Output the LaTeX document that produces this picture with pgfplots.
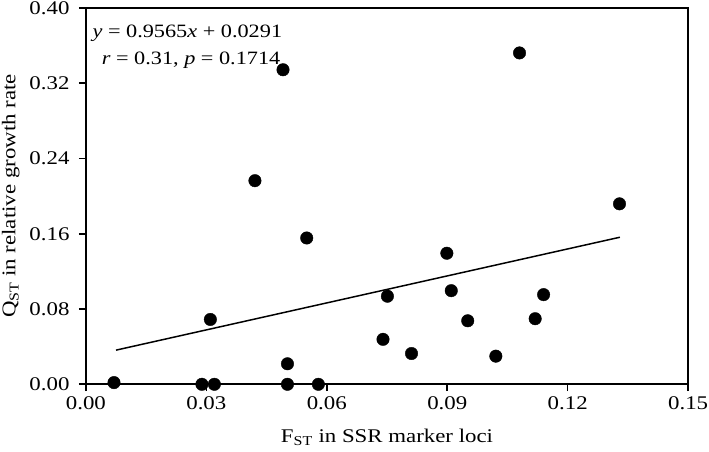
\documentclass[border=0pt]{standalone}
\usepackage{pgfplots}
\pgfplotsset{compat=1.18}
\usepackage{fontspec}
\setmainfont{Liberation Serif}[FakeStretch=1.18]
\begin{document}
\begin{tikzpicture}
\begin{axis}[
  name=ax,
  scale only axis,
  width=606.5pt, height=379pt,
  xmin=0, xmax=0.15, ymin=0, ymax=0.40,
  xtick={0,0.03,0.06,0.09,0.12,0.15},
  ytick={0,0.08,0.16,0.24,0.32,0.40},
  tick align=outside,
  tick pos=left,
  major tick length=7pt,
  axis line style={line width=1.6pt},
  every tick/.style={line width=1.6pt,black},
  /pgf/number format/assume math mode=true,
  /pgf/number format/.cd, fixed, fixed zerofill, precision=2, /pgfplots/.cd,
  scaled ticks=false,
  tick label style={font=\fontsize{19.5}{23}\selectfont},
  xticklabel style={yshift=-2.3pt},
  yticklabel style={xshift=-6pt},
  label style={font=\fontsize{19.5}{23}\selectfont},
  xlabel={F\textsubscript{ST} in SSR marker loci},
  ylabel={Q\textsubscript{ST} in relative growth rate},
  xlabel style={at={(axis description cs:0.5,0)}, anchor=base, yshift=-59pt},
  ylabel style={at={(axis description cs:-0.1170,0.5)}, anchor=base},
  clip=false,
]
\addplot[only marks, mark=*, mark size=6.3pt, black] coordinates {
(0.0070,0.0018)
(0.0289,0.0)
(0.0320,0.0)
(0.0310,0.0689)
(0.0502,0.0218)
(0.0502,0.0)
(0.0579,0.0)
(0.0740,0.0478)
(0.0811,0.0327)
(0.0951,0.0675)
(0.1021,0.0299)
(0.1119,0.0697)
(0.1080,0.3522)
(0.1329,0.1918)
(0.0491,0.3343)
(0.0421,0.2164)
(0.0550,0.1555)
(0.0899,0.1393)
(0.0910,0.0995)
(0.0751,0.0936)
(0.1140,0.0953)
};
\addplot[black, line width=1.5pt] coordinates {(0.0075,0.0363) (0.133,0.1563)};
\node[anchor=base west, font=\fontsize{19}{23}\selectfont, inner sep=0pt, xshift=6.5pt, yshift=-30pt]
  at (rel axis cs:0,1) {\textit{y} = 0.9565\textit{x} + 0.0291};
\node[anchor=base east, font=\fontsize{19}{23}\selectfont, inner sep=0pt, xshift=196pt, yshift=-57pt]
  at (rel axis cs:0,1) {\textit{r} = 0.31, \textit{p} = 0.1714};
\end{axis}
\pgfresetboundingbox
\path[use as bounding box] ([shift={(-86.5pt,-68pt)}]ax.south west) rectangle ([shift={(21pt,8pt)}]ax.north east);
\end{tikzpicture}
\end{document}
